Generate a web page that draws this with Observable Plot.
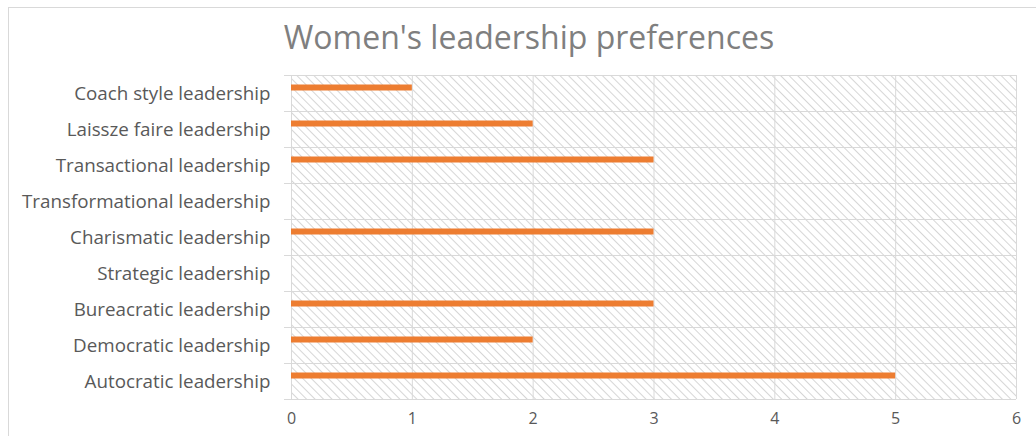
<!DOCTYPE html>
<html>
<head>
<meta charset="utf-8">
<script src="https://cdn.jsdelivr.net/npm/d3@7"></script>
<script src="https://cdn.jsdelivr.net/npm/@observablehq/plot@0.6"></script>
<style>
  html, body { margin: 0; padding: 0; background: #fff; }
  #chart { position: relative; width: 1036px; height: 436px; overflow: hidden; }
  #border { position: absolute; left: 8px; top: 7px; right: -2px; bottom: -2px;
            border: 1px solid #d9d9d9; }
  #title { position: absolute; left: 22px; width: 1014px; top: 15px; text-align: center;
           font-family: "Open Sans", sans-serif; font-size: 32px; color: #7f7f7f; }
  #plot { position: absolute; left: 0; top: 0; }
</style>
</head>
<body>
<div id="chart">
  <div id="border"></div>
  <div id="title">Women's leadership preferences</div>
  <div id="plot"></div>
</div>
<script>
// Leadership styles, listed top to bottom
const styles = [
  "Coach style leadership",
  "Laissze faire leadership",
  "Transactional leadership",
  "Transformational leadership",
  "Charismatic leadership",
  "Strategic leadership",
  "Bureacratic leadership",
  "Democratic leadership",
  "Autocratic leadership"
];
// Number of respondents preferring each style
const counts = [1, 2, 3, 0, 3, 0, 3, 2, 5];
const xTicks = [0, 1, 2, 3, 4, 5, 6];

const data = styles.map((s, i) => ({style: s, count: counts[i]}));
const band = (399 - 75) / styles.length;

const grid = "#d9d9d9";
const chart = Plot.plot({
  width: 1036,
  height: 436,
  marginLeft: 291,
  marginRight: 20,
  marginTop: 75,
  marginBottom: 37,
  style: {fontFamily: "'Open Sans', sans-serif", fontSize: "15px", color: "#595959", background: "transparent"},
  x: {domain: [0, 6], ticks: xTicks, label: null},
  y: {domain: styles, padding: 0, label: null},
  marks: [
    Plot.frame({fill: "url(#hatch)", stroke: null}),
    Plot.ruleX(xTicks, {stroke: grid, strokeWidth: 1}),
    Plot.ruleY(styles, {y: d => d, dy: -band / 2, stroke: grid, insetLeft: -7}),
    Plot.ruleY(styles.slice(-1), {y: d => d, dy: band / 2, stroke: grid, insetLeft: -7}),
    Plot.barX(data, {y: "style", x: "count", fill: "#ED7D31", insetTop: 9.5, insetBottom: 20.5}),
    Plot.axisX({ticks: xTicks, tickFormat: "d", tickSize: 0, tickPadding: 13, fontSize: 16}),
    Plot.axisY({tickSize: 0, tickPadding: 21, fontSize: 18.8})
  ]
});

// Downward diagonal hatch fill for the plotting area
const svg = d3.select(chart);
const pat = svg.insert("defs", ":first-child")
  .append("pattern")
  .attr("id", "hatch")
  .attr("patternUnits", "userSpaceOnUse")
  .attr("width", 6).attr("height", 6)
  .attr("patternTransform", "rotate(-45)");
pat.append("rect").attr("width", 6).attr("height", 6).attr("fill", "#ffffff");
pat.append("line").attr("x1", 0).attr("y1", 0).attr("x2", 0).attr("y2", 6)
  .attr("stroke", "#d6d6d6").attr("stroke-width", 2);

document.getElementById("plot").appendChild(chart);
</script>
</body>
</html>
